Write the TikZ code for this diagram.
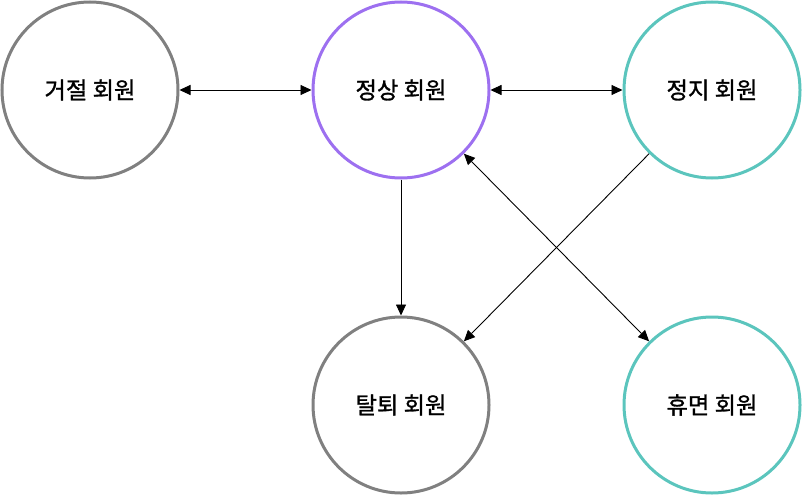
\documentclass[tikz,border=0pt]{standalone}
\usepackage{fontspec}
\setmainfont{Noto Sans CJK KR}[RawFeature={embolden=1.2}]
\usetikzlibrary{arrows.meta}
\definecolor{cgray}{HTML}{808080}
\definecolor{cpurple}{HTML}{9D70F0}
\definecolor{cteal}{HTML}{5BC5BD}
\tikzset{
  state/.style={circle, draw=#1, line width=3pt, minimum size=176pt, inner sep=0pt, font=\fontsize{23.3pt}{27pt}\selectfont},
  conn/.style={line width=0.9pt, -{Triangle[length=11pt,width=10pt]}},
  bconn/.style={line width=0.9pt, {Triangle[length=11pt,width=10pt]}-{Triangle[length=11pt,width=10pt]}}
}
\begin{document}
\begin{tikzpicture}[x=1pt,y=-1pt]
\useasboundingbox (0,0) rectangle (802,495);
\node[state=cgray] (rej) at (90,90) {거절 회원};
\node[state=cpurple] (norm) at (401,90) {정상 회원};
\node[state=cteal] (susp) at (712,90) {정지 회원};
\node[state=cgray] (quit) at (401,405) {탈퇴 회원};
\node[state=cteal] (dorm) at (712,405) {휴면 회원};
\draw[bconn] (rej) -- (norm);
\draw[bconn] (norm) -- (susp);
\draw[conn] (norm) -- (quit);
\draw[conn] (susp) -- (quit);
\draw[bconn] (norm) -- (dorm);
\end{tikzpicture}
\end{document}
